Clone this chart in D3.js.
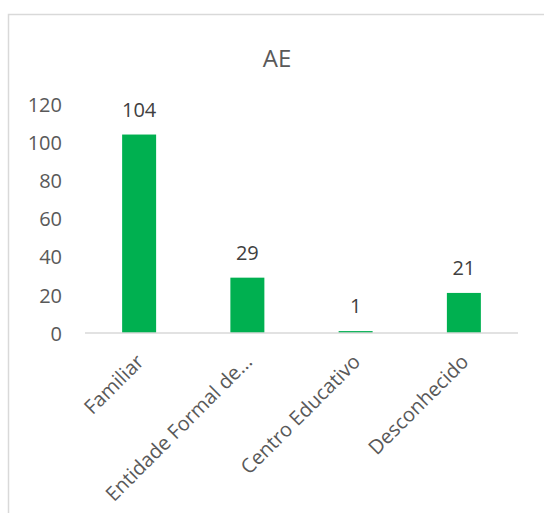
<!DOCTYPE html>
<html>
<head>
<meta charset="utf-8">
<script src="https://cdn.jsdelivr.net/npm/d3@7"></script>
<style>
html,body{margin:0;padding:0;background:#fff;}
svg{display:block;font-family:"Open Sans",sans-serif;}
</style>
</head>
<body>
<script>
const categories = ["Familiar", "Entidade Formal de...", "Centro Educativo", "Desconhecido"];
const values = [104, 29, 1, 21];
const yTicks = [0, 20, 40, 60, 80, 100, 120];
const title = "AE";

const W = 544, H = 513;
const svg = d3.select("body").append("svg").attr("width", W).attr("height", H);

// chart border (partially visible)
svg.append("rect").attr("x", 8.5).attr("y", 14.5).attr("width", 600).attr("height", 600)
  .attr("fill", "none").attr("stroke", "#d9d9d9").attr("stroke-width", 1.5);

const plot = {left: 85, right: 518, top: 104, bottom: 333};

const x = d3.scaleBand().domain(categories).range([plot.left, plot.right])
  .paddingInner(0.686).paddingOuter(0.343);
const y = d3.scaleLinear().domain([0, 120]).range([plot.bottom, plot.top]);

svg.append("text").attr("x", 277).attr("y", 67).attr("text-anchor", "middle")
  .attr("font-size", 24).attr("fill", "#595959").text(title);

// y axis labels
const yAxis = d3.axisLeft(y).tickValues(yTicks).tickSize(0).tickPadding(0);
const gy = svg.append("g").attr("transform", `translate(62,0)`).call(yAxis);
gy.select(".domain").remove();
gy.selectAll("text").attr("font-size", 20).attr("fill", "#595959")
  .attr("font-family", "Open Sans, sans-serif").attr("dy", "0.36em");

// bars
svg.selectAll("rect.bar").data(values).enter().append("rect").attr("class", "bar")
  .attr("x", (d, i) => x(categories[i]))
  .attr("width", x.bandwidth())
  .attr("y", d => y(d))
  .attr("height", d => y(0) - y(d))
  .attr("fill", "#00B050");

// x axis
const xAxis = d3.axisBottom(x).tickSize(0).tickPadding(0);
const gx = svg.append("g").attr("transform", `translate(0,${plot.bottom})`).call(xAxis);
gx.select(".domain").attr("stroke", "#d9d9d9").attr("stroke-width", 1.5)
  .attr("d", `M${plot.left},0H${plot.right}`);
gx.selectAll("text").attr("font-size", 20).attr("fill", "#595959")
  .attr("font-family", "Open Sans, sans-serif")
  .attr("text-anchor", "end").attr("dy", null).attr("y", null)
  .attr("transform", "translate(6,30) rotate(-45)");

// data labels
svg.selectAll("text.lbl").data(values).enter().append("text").attr("class", "lbl")
  .attr("x", (d, i) => x(categories[i]) + x.bandwidth() / 2)
  .attr("y", d => y(d) - 18)
  .attr("text-anchor", "middle").attr("font-size", 20).attr("fill", "#404040")
  .text(d => d);
</script>
</body>
</html>
